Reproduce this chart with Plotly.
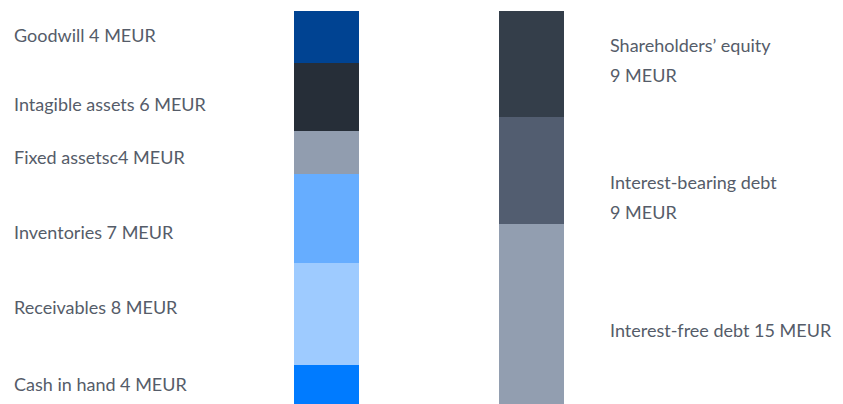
import plotly.graph_objects as go

# Data
asset_labels = ["Cash in hand 4 MEUR", "Receivables 8 MEUR", "Inventories 7 MEUR",
                "Fixed assetsc4 MEUR", "Intagible assets 6 MEUR", "Goodwill 4 MEUR"]
asset_values = [3.3, 8.5, 7.5, 3.6, 5.7, 4.4]
asset_colors = ["#007bff", "#9ecbff", "#66adff", "#919daf", "#262e38", "#004392"]

liab_labels = [["Interest-free debt 15 MEUR"],
               ["Interest-bearing debt", "9 MEUR"],
               ["Shareholders\u2019 equity", "9 MEUR"]]
liab_values = [15.1, 9.0, 8.9]
liab_colors = ["#929eb0", "#525d70", "#343e4a"]

# label vertical positions (data units)
asset_label_y = [1.68, 8.15, 14.44, 20.74, 25.19, 30.98]
liab_label_y = [6.21, 17.38, 28.89]

OFF = 8  # page body margin
W, H = 843 - OFF, 404 - OFF
TOP, BOT = 11 - OFF, 0
plot_h = H - TOP - BOT
total = sum(asset_values)
px_per_unit = plot_h / total
bar_px = 65
c0, c1 = 326.5 - OFF, 531.5 - OFF
ux = c1 - c0
x_range = [-c0 / ux, (W - c0) / ux]

fig = go.Figure()
for v, c in zip(asset_values, asset_colors):
    fig.add_trace(go.Bar(x=[0], y=[v], marker=dict(color=c, line=dict(width=0)),
                         width=bar_px / ux, hoverinfo="skip", showlegend=False))
for v, c in zip(liab_values, liab_colors):
    fig.add_trace(go.Bar(x=[1], y=[v], marker=dict(color=c, line=dict(width=0)),
                         width=bar_px / ux, hoverinfo="skip", showlegend=False))

font = dict(family="Lato, 'Open Sans', sans-serif", size=18, color="#555c69")
lx = x_range[0] + (13 - OFF) / ux
rx = x_range[0] + (609 - OFF) / ux
for lab, yy in zip(asset_labels, asset_label_y):
    fig.add_annotation(x=lx, y=yy, text=lab, showarrow=False, xanchor="left",
                       yanchor="middle", font=font, xshift=-1)
line_gap = 30 / px_per_unit
for lines, yy in zip(liab_labels, liab_label_y):
    n = len(lines)
    for i, ln in enumerate(lines):
        off = ((n - 1) / 2 - i) * line_gap
        fig.add_annotation(x=rx, y=yy + off, text=ln, showarrow=False, xanchor="left",
                           yanchor="middle", font=font, xshift=-1)

fig.update_layout(
    width=W, height=H, barmode="stack", bargap=0,
    margin=dict(l=0, r=0, t=TOP, b=BOT),
    paper_bgcolor="white", plot_bgcolor="white",
    xaxis=dict(range=x_range, visible=False, fixedrange=True),
    yaxis=dict(range=[0, total], visible=False, fixedrange=True),
)
fig.write_html("out.html")
